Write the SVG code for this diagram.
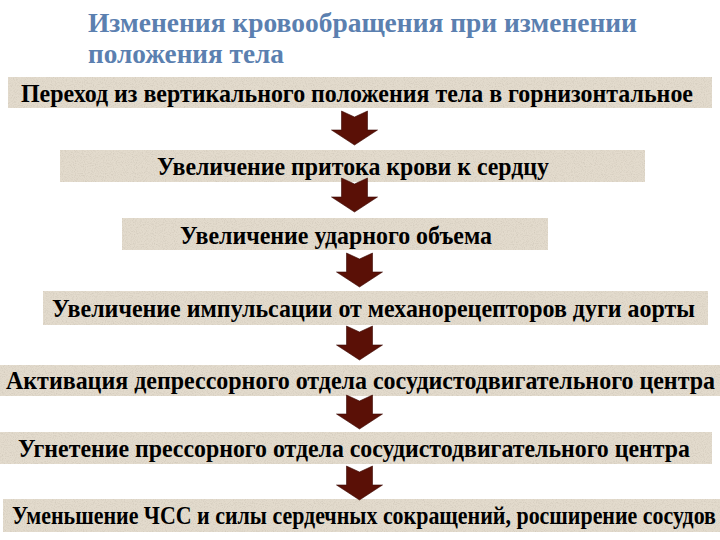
<svg xmlns="http://www.w3.org/2000/svg" width="720" height="540" viewBox="0 0 720 540">
<style>
.title{font-family:"Liberation Serif","DejaVu Serif",serif;font-weight:bold;font-size:28px;fill:#5b80b0}
.lbl{font-family:"Liberation Serif","DejaVu Serif",serif;font-weight:bold;font-size:26px;fill:#000}
.box{fill:#e3dbcd}
.arrow{fill:#5a1006;stroke:#3a0803;stroke-width:0.6}
</style>
<defs>
<filter id="grain" x="0" y="0" width="100%" height="100%">
<feTurbulence type="fractalNoise" baseFrequency="0.9" numOctaves="2" seed="3" result="n"/>
<feColorMatrix in="n" type="matrix" values="0 0 0 0 0.55  0 0 0 0 0.5  0 0 0 0 0.42  0 0 0 -2.2 1.25" result="speck"/>
<feComposite in="speck" in2="SourceGraphic" operator="in"/>
</filter>
<path id="arr" d="M-13,0 L0,6 L13,0 L13,19 L23,19 L0,34 L-23,19 L-13,19 Z"/>
</defs>
<rect width="720" height="540" fill="#fff"/>
<g id="title">
<text class="title" transform="translate(88,32) scale(0.92,1)" textLength="596.7" lengthAdjust="spacingAndGlyphs">Изменения кровообращения при изменении</text>
<text class="title" transform="translate(88,63) scale(0.92,1)" textLength="213" lengthAdjust="spacingAndGlyphs">положения тела</text>
</g>
<g id="n1">
<rect class="box" x="8" y="77" width="704" height="31"/>
<rect x="8" y="77" width="704" height="31" fill="#e3dbcd" filter="url(#grain)" opacity="0.5"/>
<text class="lbl" transform="translate(21,102) scale(0.92,1)" textLength="730.4" lengthAdjust="spacingAndGlyphs">Переход из вертикального положения тела в горнизонтальное</text>
</g>
<g id="n2">
<rect class="box" x="60" y="150" width="585" height="32"/>
<rect x="60" y="150" width="585" height="32" fill="#e3dbcd" filter="url(#grain)" opacity="0.5"/>
<text class="lbl" transform="translate(157,175) scale(0.92,1)" textLength="426.1" lengthAdjust="spacingAndGlyphs">Увеличение притока крови к сердцу</text>
</g>
<g id="n3">
<rect class="box" x="122" y="218" width="426" height="32"/>
<rect x="122" y="218" width="426" height="32" fill="#e3dbcd" filter="url(#grain)" opacity="0.5"/>
<text class="lbl" transform="translate(180,244) scale(0.92,1)" textLength="339.1" lengthAdjust="spacingAndGlyphs">Увеличение ударного объема</text>
</g>
<g id="n4">
<rect class="box" x="43" y="291" width="665" height="34"/>
<rect x="43" y="291" width="665" height="34" fill="#e3dbcd" filter="url(#grain)" opacity="0.5"/>
<text class="lbl" transform="translate(52,317) scale(0.92,1)" textLength="698.9" lengthAdjust="spacingAndGlyphs">Увеличение импульсации от механорецепторов дуги аорты</text>
</g>
<g id="n5">
<rect class="box" x="0" y="365" width="720" height="31"/>
<rect x="0" y="365" width="720" height="31" fill="#e3dbcd" filter="url(#grain)" opacity="0.5"/>
<text class="lbl" transform="translate(6,389) scale(0.92,1)" textLength="770.7" lengthAdjust="spacingAndGlyphs">Активация депрессорного отдела сосудистодвигательного центра</text>
</g>
<g id="n6">
<rect class="box" x="0" y="432" width="712" height="32"/>
<rect x="0" y="432" width="712" height="32" fill="#e3dbcd" filter="url(#grain)" opacity="0.5"/>
<text class="lbl" transform="translate(18,457) scale(0.92,1)" textLength="730.4" lengthAdjust="spacingAndGlyphs">Угнетение прессорного отдела сосудистодвигательного центра</text>
</g>
<g id="n7">
<rect class="box" x="3" y="499" width="717" height="33"/>
<rect x="3" y="499" width="717" height="33" fill="#e3dbcd" filter="url(#grain)" opacity="0.5"/>
<text class="lbl" transform="translate(12,524) scale(0.845,1)" font-size="24" textLength="833" lengthAdjust="spacingAndGlyphs">Уменьшение ЧСС и силы сердечных сокращений, росширение сосудов</text>
</g>
<g id="connectors">
<use href="#arr" class="arrow" x="354.5" y="111"/>
<use href="#arr" class="arrow" x="354.5" y="178"/>
<use href="#arr" class="arrow" x="359.5" y="253"/>
<use href="#arr" class="arrow" x="359.5" y="326"/>
<use href="#arr" class="arrow" x="359.5" y="395"/>
<use href="#arr" class="arrow" x="359.5" y="466"/>
</g>
</svg>
